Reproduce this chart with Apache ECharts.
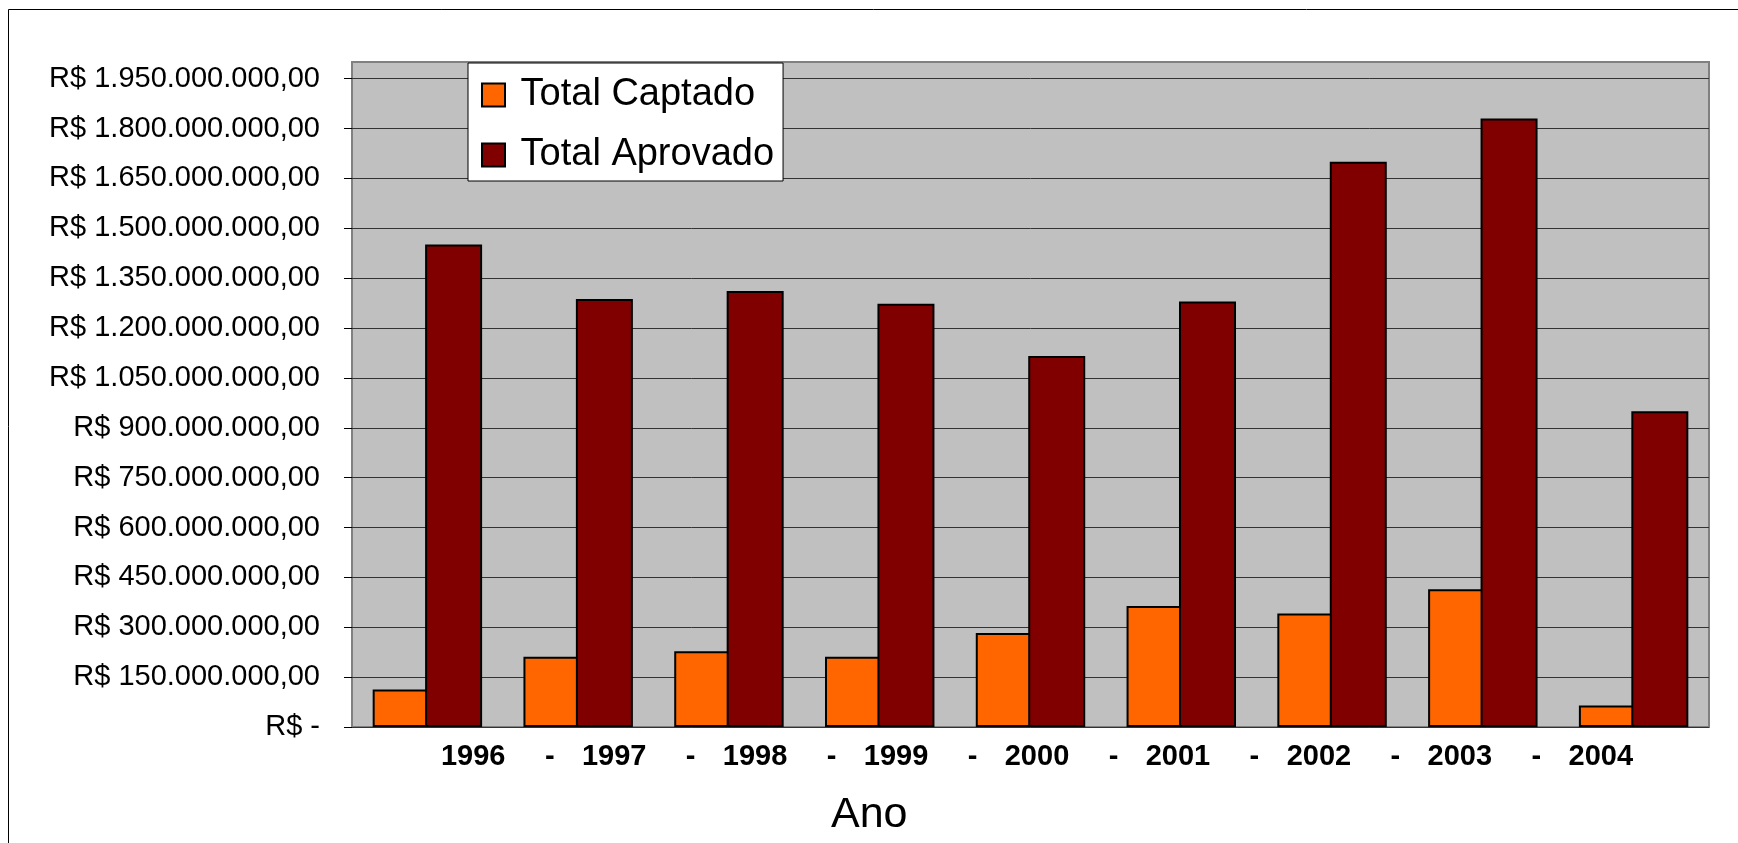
<!DOCTYPE html>
<html>
<head>
<meta charset="utf-8">
<script src="https://cdn.jsdelivr.net/npm/echarts@6/dist/echarts.min.js"></script>
<style>
html,body{margin:0;padding:0;background:#fff;}
#chart{width:1738px;height:843px;}
</style>
</head>
<body>
<div id="chart"></div>
<script>
// ---- data ----
const years = ['1996', '1997', '1998', '1999', '2000', '2001', '2002', '2003', '2004'];
const totalCaptado = [113e6, 211e6, 228e6, 211e6, 283e6, 364e6, 341e6, 414e6, 65e6];
const totalAprovado = [1451e6, 1287e6, 1311e6, 1273e6, 1116e6, 1280e6, 1700e6, 1830e6, 950e6];
const yTicks = [0, 150e6, 300e6, 450e6, 600e6, 750e6, 900e6, 1050e6, 1200e6, 1350e6, 1500e6, 1650e6, 1800e6, 1950e6];
const seriesNames = ['Total Captado', 'Total Aprovado'];
const xAxisTitle = 'Ano';

// year labels row: "1996 - 1997 - ... - 2004"
const yearLabelRow = [];
years.forEach((y, i) => { if (i > 0) yearLabelRow.push('-'); yearLabelRow.push(y); });

const FONT = "'Liberation Sans', Arial, Helvetica, sans-serif";

function fmtMoney(v) {
  if (v === 0) return 'R$ -';
  if (v > yTicks[yTicks.length - 1]) return '';
  return 'R$ ' + Math.round(v).toString().replace(/\B(?=(\d{3})+(?!\d))/g, '.') + ',00';
}

const chart = echarts.init(document.getElementById('chart'), null, { renderer: 'canvas' });

const labelFont = { fontFamily: FONT, fontSize: 29, fontWeight: 'bold', color: '#000' };

const option = {
  backgroundColor: '#ffffff',
  animation: false,
  textStyle: { fontFamily: FONT },
  graphic: [{
    type: 'rect',
    shape: { x: 8.5, y: 9.5, width: 1760, height: 860 },
    style: { fill: 'none', stroke: '#000', lineWidth: 1 },
    silent: true, z: -10
  }],
  title: {
    text: xAxisTitle,
    left: 831, top: 794, padding: 0,
    textStyle: { fontFamily: FONT, fontSize: 43, fontWeight: 'normal', color: '#000' }
  },
  legend: {
    orient: 'vertical',
    left: 468, top: 63,
    padding: [13, 9, 7, 13],
    itemGap: 22,
    itemWidth: 23, itemHeight: 23,
    icon: 'rect',
    backgroundColor: '#ffffff',
    borderColor: '#000', borderWidth: 1,
    borderRadius: 0,
    formatter: n => ' ' + n,
    textStyle: { fontFamily: FONT, fontSize: 38, color: '#000' },
    data: seriesNames
  },
  grid: [{
    left: 352, right: 29, top: 62, bottom: 116,
    show: true, backgroundColor: '#c0c0c0', borderColor: '#808080', borderWidth: 2,
    containLabel: false
  }, {
    left: 438, width: 1198, top: 62, bottom: 116, show: false, containLabel: false
  }],
  xAxis: [{
    type: 'category', gridIndex: 0, data: years,
    axisLine: { show: false }, axisTick: { show: false }, axisLabel: { show: false },
    splitLine: { show: false }
  }, {
    type: 'category', gridIndex: 1, data: yearLabelRow,
    axisLine: { show: false }, axisTick: { show: false },
    axisLabel: Object.assign({
      interval: 0, margin: 15,
      formatter: v => v === '-' ? '{d|-}' : '{y|' + v + '}',
      rich: {
        d: Object.assign({ padding: [0, 0, 0, 12] }, labelFont),
        y: Object.assign({}, labelFont)
      }
    }, labelFont),
    splitLine: { show: false }
  }],
  yAxis: [{
    type: 'value', gridIndex: 0, min: 0, max: 2000e6, interval: 150e6,
    axisLine: { show: false },
    axisTick: { show: true, length: 8, customValues: yTicks, lineStyle: { color: '#000', width: 1 } },
    axisLabel: { customValues: yTicks, margin: 32, fontFamily: FONT, fontSize: 29, color: '#000', formatter: fmtMoney },
    splitLine: { show: true, lineStyle: { color: '#333', width: 1 } }
  }, {
    type: 'value', gridIndex: 1, min: 0, max: 1, show: false
  }],
  series: [{
    name: seriesNames[0], type: 'bar', xAxisIndex: 0, yAxisIndex: 0,
    data: totalCaptado, barWidth: 57, barGap: '-8%',
    itemStyle: { color: '#ff6600', borderColor: '#000', borderWidth: 2 }
  }, {
    name: seriesNames[1], type: 'bar', xAxisIndex: 0, yAxisIndex: 0,
    data: totalAprovado, barWidth: 57, barGap: '-8%',
    itemStyle: { color: '#800000', borderColor: '#000', borderWidth: 2 }
  }]
};
chart.setOption(option);
</script>
</body>
</html>
